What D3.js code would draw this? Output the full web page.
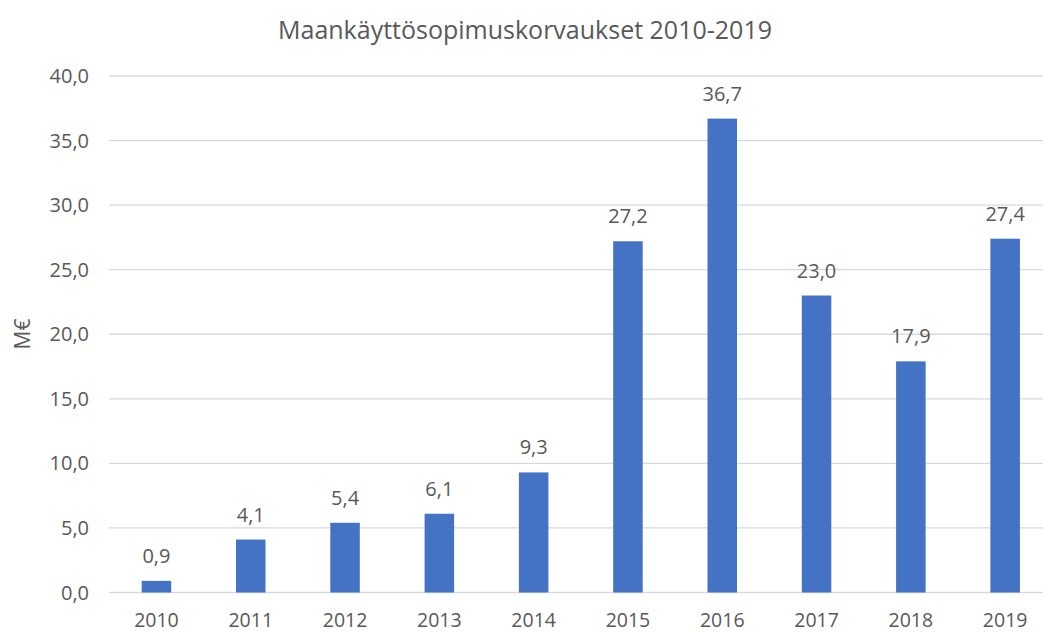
<!DOCTYPE html>
<html><head><meta charset="utf-8">
<script src="https://cdn.jsdelivr.net/npm/d3@7"></script>
<style>body{margin:0;background:#fff;} text{font-family:"Open Sans","Liberation Sans",sans-serif;fill:#595959;}</style>
</head><body>
<svg id="c" width="1043" height="632"></svg>
<script>
const years = ["2010","2011","2012","2013","2014","2015","2016","2017","2018","2019"];
const values = [0.9,4.1,5.4,6.1,9.3,27.2,36.7,23.0,17.9,27.4];
const yTicks = [0,5,10,15,20,25,30,35,40];
const title = "Maankäyttösopimuskorvaukset 2010-2019";
const yLabel = "M€";

const svg = d3.select("#c");
const fmt = v => v.toFixed(1).replace(".", ",");
const x = d3.scaleBand().domain(years).range([109.3, 1052.3]).padding(0);
const y = d3.scaleLinear().domain([0,40]).range([592.5, 76]);
const barW = x.bandwidth()*0.313;

svg.append("g").selectAll("line").data(yTicks).join("line")
  .attr("x1",109).attr("x2",1043).attr("y1",d=>y(d)).attr("y2",d=>y(d))
  .attr("stroke","#d9d9d9").attr("stroke-width",1.3);

svg.append("g").selectAll("text").data(yTicks).join("text")
  .attr("x",89).attr("y",d=>y(d)).attr("dy","0.35em").attr("text-anchor","end")
  .attr("font-size",20).text(fmt);

svg.append("g").selectAll("rect").data(values).join("rect")
  .attr("x",(d,i)=>x(years[i])+x.bandwidth()/2-barW/2).attr("width",barW)
  .attr("y",d=>y(d)).attr("height",d=>y(0)-y(d)).attr("fill","#4472C4");

svg.append("g").selectAll("text").data(values).join("text")
  .attr("x",(d,i)=>x(years[i])+x.bandwidth()/2).attr("y",d=>y(d)-18)
  .attr("text-anchor","middle").attr("font-size",20).attr("fill","#404040").text(fmt);

svg.append("g").selectAll("text").data(years).join("text")
  .attr("x",d=>x(d)+x.bandwidth()/2).attr("y",626.5).attr("text-anchor","middle")
  .attr("font-size",19.5).text(d=>d);

svg.append("text").attr("x",525).attr("y",39).attr("text-anchor","middle")
  .attr("font-size",25).text(title);

svg.append("text").attr("transform","translate(30,334) rotate(-90)")
  .attr("text-anchor","middle").attr("font-size",21).text(yLabel);
</script>
</body></html>
